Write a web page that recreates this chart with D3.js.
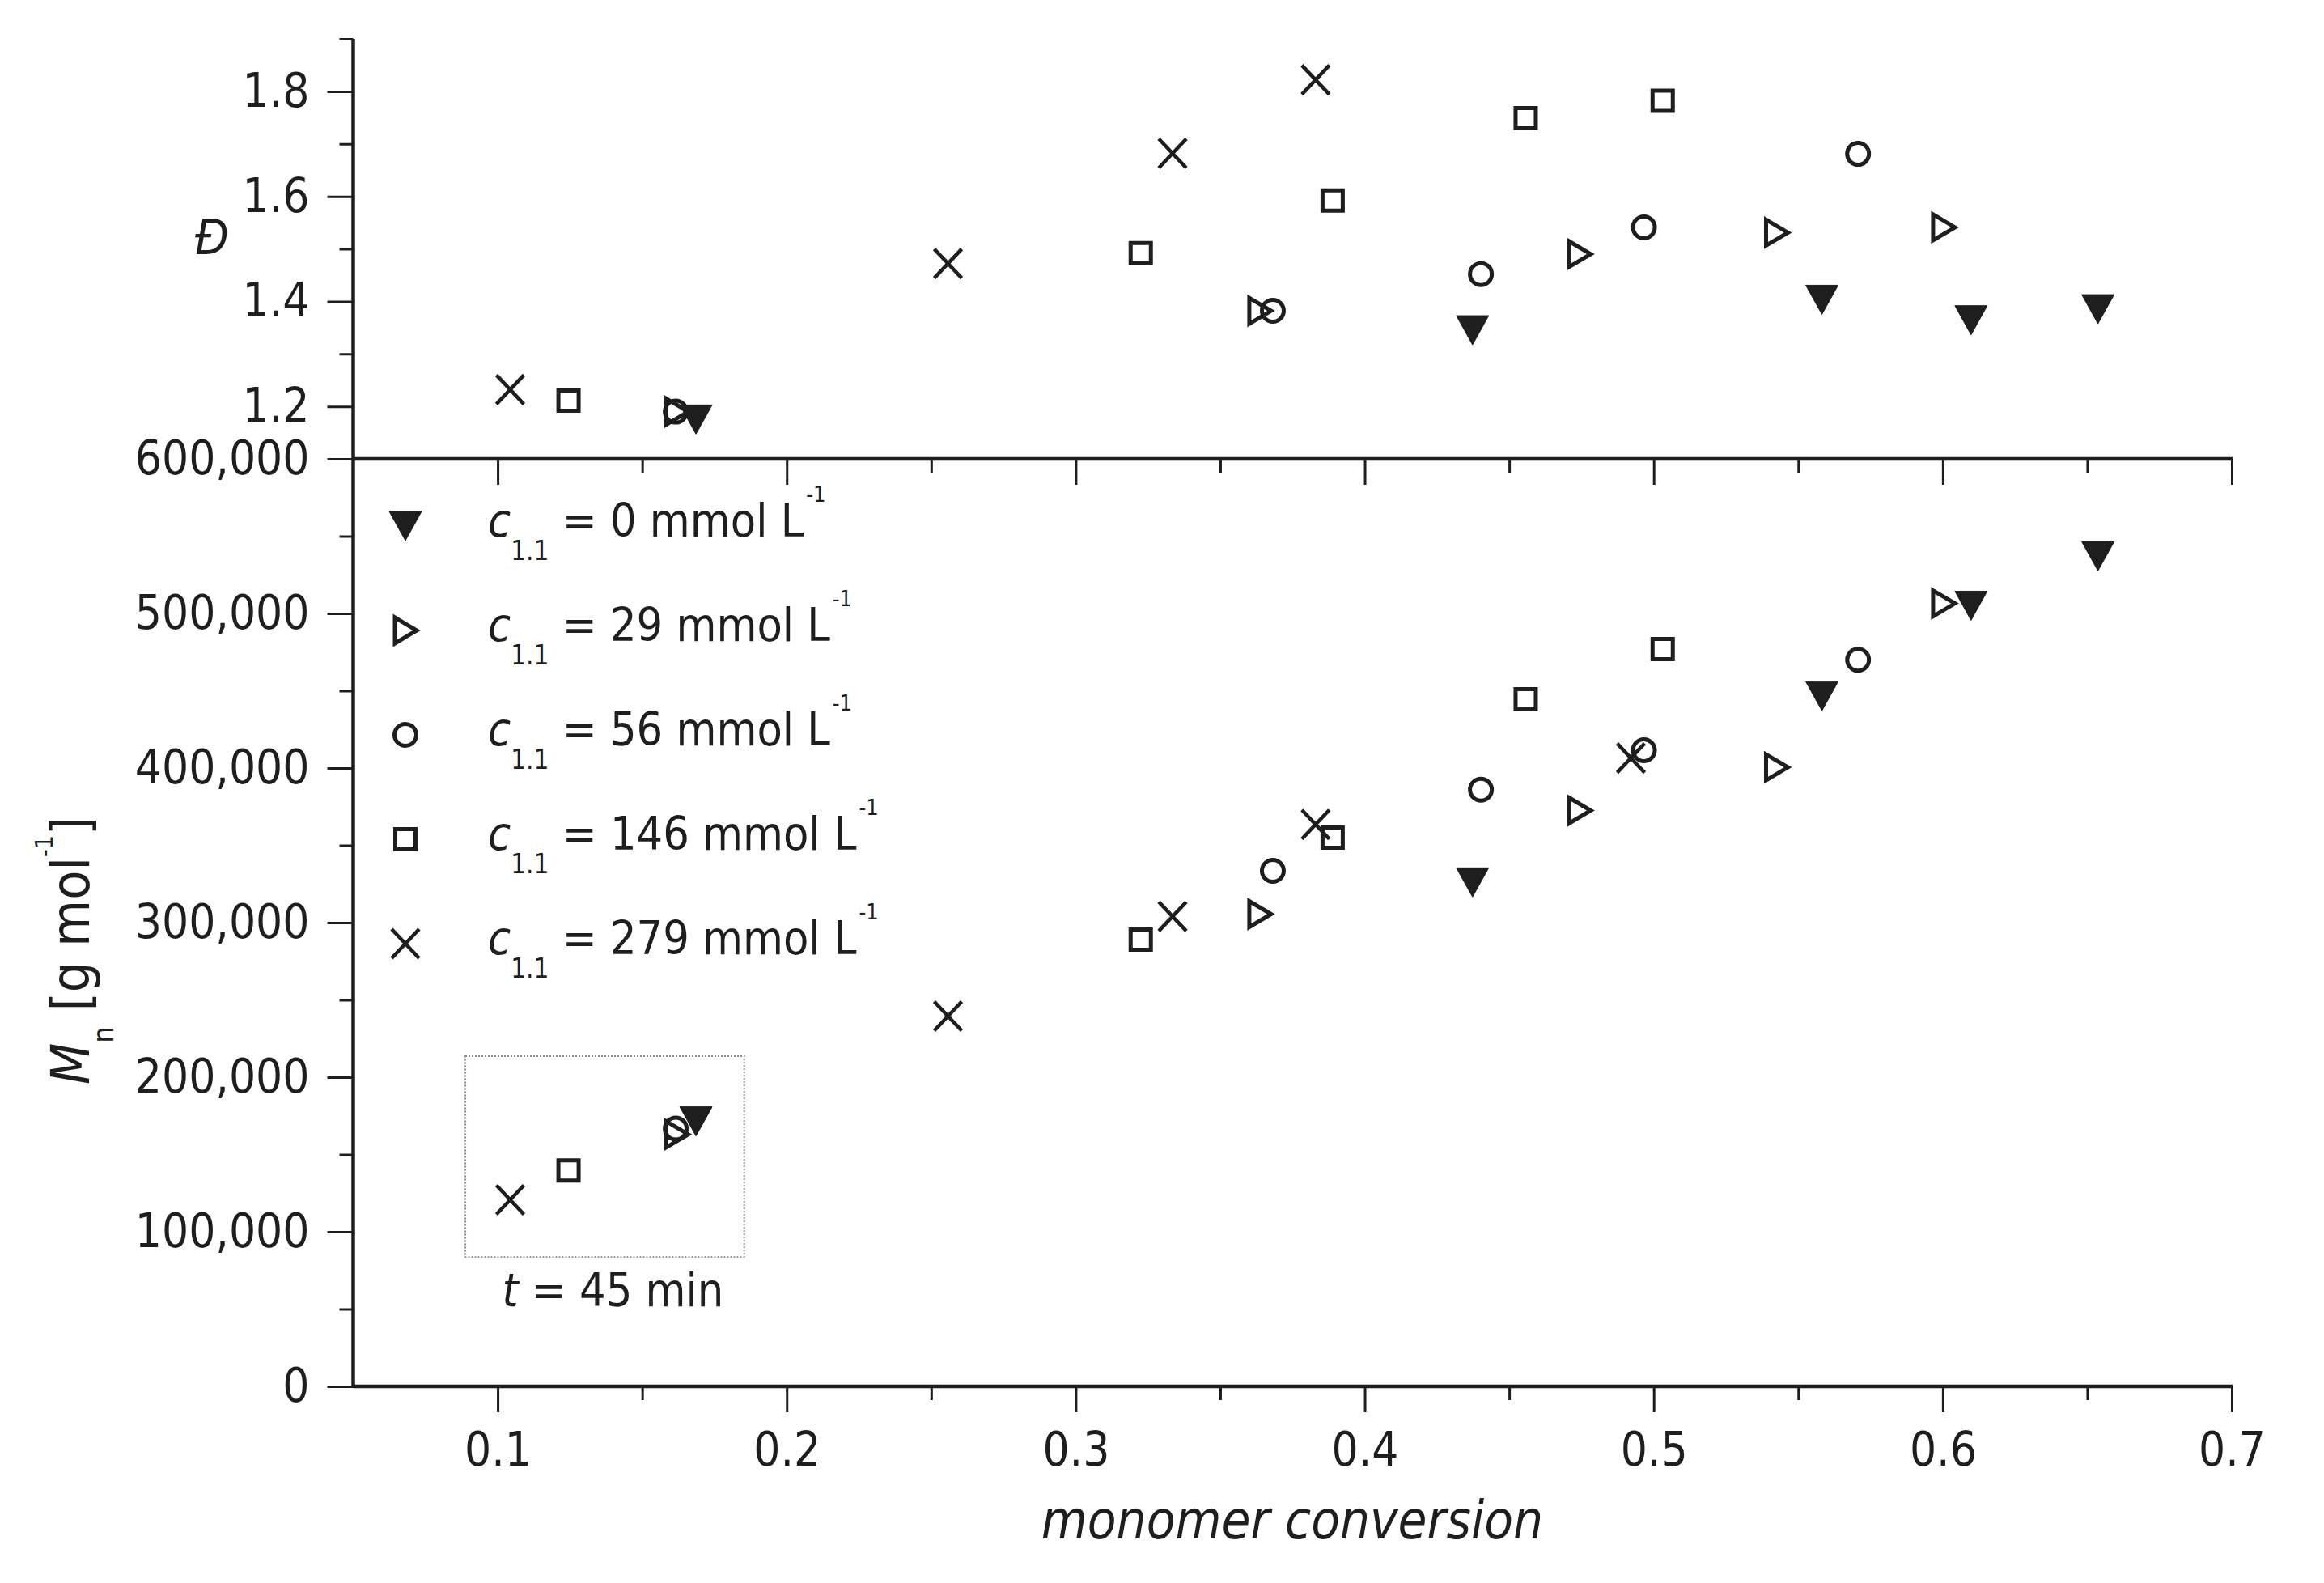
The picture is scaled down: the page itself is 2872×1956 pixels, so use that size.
<!DOCTYPE html>
<html>
<head>
<meta charset="utf-8">
<script src="https://cdn.jsdelivr.net/npm/d3@7"></script>
<style>
  body { margin: 0; background: #fff; }
  svg text { font-family: "DejaVu Sans Condensed", "DejaVu Sans", sans-serif; fill: #1e1e1e; }
</style>
</head>
<body>
<div id="chart"></div>
<script>
// series labels (c1.1 in mmol/L) and their marker types
const seriesConc = ['0', '29', '56', '146', '279'];
const seriesMarker = ['triDown', 'triRight', 'circle', 'square', 'cross'];

// monomer conversion per series
const conv0 = [0.1686, 0.4373, 0.5582, 0.6098, 0.6537];
const conv29 = [0.1620, 0.3637, 0.4743, 0.5425, 0.6003];
const conv56 = [0.1616, 0.3682, 0.4402, 0.4966, 0.5707];
const conv146 = [0.1245, 0.3225, 0.3889, 0.4557, 0.5031];
const conv279 = [0.1043, 0.2558, 0.3335, 0.3830, 0.4921];

// dispersity per series (null = not shown)
const disp0 = [1.175, 1.345, 1.403, 1.364, 1.385];
const disp29 = [1.190, 1.382, 1.490, 1.531, 1.541];
const disp56 = [1.190, 1.382, 1.452, 1.541, 1.681];
const disp146 = [1.211, 1.492, 1.592, 1.749, 1.782];
const disp279 = [1.232, 1.472, 1.682, 1.822, null];

// number average molar mass per series
const mn0 = [171400, 326000, 446500, 505000, 537000];
const mn29 = [163000, 305500, 372500, 400500, 506500];
const mn56 = [166800, 333500, 386000, 411500, 470000];
const mn146 = [139700, 289000, 355000, 444500, 477000];
const mn279 = [120700, 239500, 304000, 363500, 406500];

// tick values
const xMajor = [0.1, 0.2, 0.3, 0.4, 0.5, 0.6, 0.7];
const xMinor = [0.15, 0.25, 0.35, 0.45, 0.55, 0.65];
const dMajor = [1.2, 1.4, 1.6, 1.8];
const dMinor = [1.3, 1.5, 1.7, 1.9];
const mnMajor = [0, 100000, 200000, 300000, 400000, 500000, 600000];
const mnMinor = [50000, 150000, 250000, 350000, 450000, 550000];

// t = 45 min box, in data units
const insetConv = [0.0888, 0.1853];
const insetMn = [83700, 213600];

const convs = [conv0, conv29, conv56, conv146, conv279];
const disps = [disp0, disp29, disp56, disp146, disp279];
const mns = [mn0, mn29, mn56, mn146, mn279];

const W = 2872, H = 1956;
const ink = '#1e1e1e';
const svg = d3.select('#chart').append('svg').attr('width', W).attr('height', H);

// scales
const x = d3.scaleLinear().domain([0.05, 0.7]).range([436.5, 2758]);
const yD = d3.scaleLinear().domain([1.1, 1.9]).range([567, 48]);
const yM = d3.scaleLinear().domain([0, 600000]).range([1713, 567]);

// marker shapes centred on 0,0
function markerPath(type) {
  const p = d3.path();
  if (type === 'triDown') {
    p.moveTo(-20, -18); p.lineTo(20, -18); p.lineTo(0, 18); p.closePath();
  } else if (type === 'triRight') {
    p.moveTo(-13, -16); p.lineTo(14, 0); p.lineTo(-13, 16); p.closePath();
  } else if (type === 'circle') {
    p.arc(0, 0, 13.5, 0, 2 * Math.PI);
  } else if (type === 'square') {
    p.rect(-12.5, -12.5, 25, 25);
  } else {
    p.moveTo(-17, -18); p.lineTo(17, 18); p.moveTo(17, -18); p.lineTo(-17, 18);
  }
  return p.toString();
}
function styleMarker(sel, type) {
  sel.attr('d', markerPath(type))
    .attr('fill', type === 'triDown' ? ink : 'none')
    .attr('stroke', ink)
    .attr('stroke-width', type === 'triDown' ? 1 : (type === 'cross' ? 4.5 : 5))
    .attr('stroke-linejoin', 'miter');
}

// axes helper
function drawAxis(axis, transform, size, labels, fontSize, pad) {
  axis.tickSize(size).tickPadding(pad).tickFormat(labels ? labels : () => '');
  const g = svg.append('g').attr('transform', transform).call(axis);
  g.select('.domain').remove();
  g.selectAll('.tick line').attr('stroke', ink).attr('stroke-width', 3);
  g.selectAll('.tick text').attr('font-size', fontSize).attr('fill', ink)
    .attr('font-family', '"DejaVu Sans Condensed", "DejaVu Sans", sans-serif');
  g.attr('font-family', null).attr('font-size', null);
  return g;
}

// left axes
drawAxis(d3.axisLeft(yD).tickValues(dMinor), 'translate(436.5,0)', 17, null, 58, 22);
drawAxis(d3.axisLeft(yD).tickValues(dMajor), 'translate(436.5,0)', 32, d3.format('.1f'), 58, 22);
drawAxis(d3.axisLeft(yM).tickValues(mnMinor), 'translate(436.5,0)', 17, null, 58, 22);
drawAxis(d3.axisLeft(yM).tickValues(mnMajor), 'translate(436.5,0)', 32, d3.format(','), 58, 22);

// separator axis (ticks pointing down, no labels)
drawAxis(d3.axisBottom(x).tickValues(xMinor), `translate(0,${yM(600000)})`, 17, null, 58, 25);
drawAxis(d3.axisBottom(x).tickValues(xMajor), `translate(0,${yM(600000)})`, 32, null, 58, 25);

// bottom axis
drawAxis(d3.axisBottom(x).tickValues(xMinor), `translate(0,${yM(0)})`, 17, null, 58, 25);
drawAxis(d3.axisBottom(x).tickValues(xMajor), `translate(0,${yM(0)})`, 32, d3.format('.1f'), 58, 25);

// axis lines
const lines = svg.append('g').attr('stroke', ink).attr('stroke-width', 4.5);
lines.append('line').attr('x1', x(0.05)).attr('x2', x(0.05)).attr('y1', yD(1.9)).attr('y2', yM(0) + 2);
lines.append('line').attr('x1', x(0.05)).attr('x2', x(0.7) + 1).attr('y1', yM(600000)).attr('y2', yM(600000));
lines.append('line').attr('x1', x(0.05)).attr('x2', x(0.7) + 1).attr('y1', yM(0)).attr('y2', yM(0));

// inset box for the t = 45 min samples
svg.append('rect')
  .attr('x', x(insetConv[0])).attr('y', yM(insetMn[1]))
  .attr('width', x(insetConv[1]) - x(insetConv[0]))
  .attr('height', yM(insetMn[0]) - yM(insetMn[1]))
  .attr('fill', 'none').attr('stroke', '#8a8a8a').attr('stroke-width', 2)
  .attr('stroke-dasharray', '2,2');
const tLabel = svg.append('text')
  .attr('x', (x(insetConv[0]) + x(insetConv[1])) / 2 + 10).attr('y', yM(insetMn[0]) + 61)
  .attr('text-anchor', 'middle').attr('font-size', 57);
tLabel.append('tspan').attr('font-style', 'italic').text('t');
tLabel.append('tspan').text(' = 45 min');

// data markers
const order = [3, 2, 1, 0, 4];
order.forEach(i => {
  const pts = convs[i].map((c, k) => ({ c, d: disps[i][k], m: mns[i][k] }));
  const g = svg.append('g');
  g.selectAll('path.dsp').data(pts.filter(p => p.d != null)).enter().append('path')
    .attr('class', 'dsp')
    .attr('transform', p => `translate(${x(p.c)},${yD(p.d)})`)
    .call(styleMarker, seriesMarker[i]);
  g.selectAll('path.mn').data(pts).enter().append('path')
    .attr('class', 'mn')
    .attr('transform', p => `translate(${x(p.c)},${yM(p.m)})`)
    .call(styleMarker, seriesMarker[i]);
});

// legend
const legend = svg.append('g').attr('transform', 'translate(501,650)');
seriesConc.forEach((conc, i) => {
  const row = legend.append('g').attr('transform', `translate(0,${i * 129})`);
  row.append('path').call(styleMarker, seriesMarker[i]);
  const t = row.append('text').attr('x', 102).attr('y', 13).attr('font-size', 57);
  t.append('tspan').attr('font-style', 'italic').text('c');
  t.append('tspan').attr('font-size', 33).attr('dy', 29).text('1.1');
  t.append('tspan').attr('dy', -29).text(` = ${conc} mmol L`);
  t.append('tspan').attr('font-size', 27).attr('dx', 3).attr('dy', -43).text('-1');
});

// axis titles
svg.append('text').attr('x', 262).attr('y', 314).attr('text-anchor', 'middle')
  .attr('font-size', 60).attr('font-style', 'italic').text('Đ');

const yTitle = svg.append('text').attr('transform', 'translate(110,1340) rotate(-90)')
  .attr('font-size', 66);
yTitle.append('tspan').attr('font-style', 'italic').text('M');
yTitle.append('tspan').attr('font-size', 36).attr('dy', 30).text('n');
yTitle.append('tspan').attr('dy', -30).text(' [g mol');
yTitle.append('tspan').attr('font-size', 30).attr('dy', -45).text('-1');
yTitle.append('tspan').attr('dy', 45).text(']');

svg.append('text').attr('x', 1597).attr('y', 1901).attr('text-anchor', 'middle')
  .attr('font-size', 65).attr('font-style', 'italic').text('monomer conversion');
</script>
</body>
</html>
